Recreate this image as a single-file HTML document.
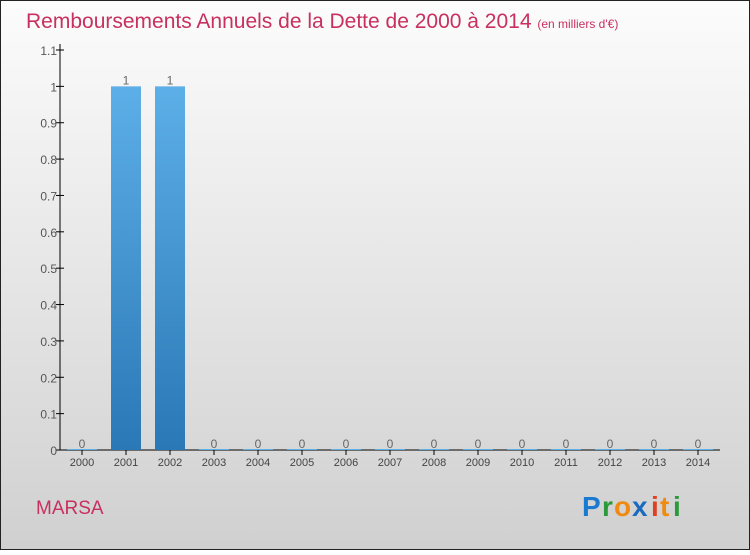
<!DOCTYPE html>
<html><head><meta charset="utf-8"><style>
body{margin:0;width:750px;height:550px;overflow:hidden;font-family:"Liberation Sans",sans-serif}
</style></head><body>
<svg width="750" height="550" xmlns="http://www.w3.org/2000/svg">
<defs>
<linearGradient id="bg" x1="0" y1="0" x2="0" y2="1"><stop offset="0" stop-color="#fcfcfc"/><stop offset="1" stop-color="#d0d0d0"/></linearGradient>
<linearGradient id="bar" x1="0" y1="0" x2="0" y2="1"><stop offset="0" stop-color="#5dafe8"/><stop offset="1" stop-color="#2a78b6"/></linearGradient>
</defs>
<rect x="0.5" y="0.5" width="749" height="549" fill="url(#bg)" stroke="#222"/>
<text x="26" y="28" font-size="21" fill="#c8305f">Remboursements Annuels de la Dette de 2000 à 2014 <tspan font-size="12">  (en milliers d'€)</tspan></text>
<g id="plot"></g>
<text x="36" y="514" font-size="19" fill="#c8305f">MARSA</text>
<g font-size="28" font-weight="bold">
<text x="582" y="516" fill="#1a7ad0">P</text><text x="602" y="516" fill="#2a9a3a">r</text><text x="614" y="516" fill="#f08a10">o</text><text x="632" y="516" fill="#1a6ac0">x</text><text x="651" y="516" fill="#e04020">i</text><text x="660" y="516" fill="#f08a10">t</text><text x="673" y="516" fill="#2a9a3a">i</text>
</g>
</svg>
<script>
const categories=["2000","2001","2002","2003","2004","2005","2006","2007","2008","2009","2010","2011","2012","2013","2014"];
const values=[0,1,1,0,0,0,0,0,0,0,0,0,0,0,0];
const tickLabels=["0","0.1","0.2","0.3","0.4","0.5","0.6","0.7","0.8","0.9","1","1.1"];
const tickValues=[0,0.1,0.2,0.3,0.4,0.5,0.6,0.7,0.8,0.9,1,1.1];
const NS="http://www.w3.org/2000/svg";
const g=document.getElementById('plot');
const y=v=>450-v*(400/1.1);
const x=i=>82+i*44;
function mk(t,a,txt){const e=document.createElementNS(NS,t);for(const k in a)e.setAttribute(k,a[k]);if(txt!==undefined)e.textContent=txt;g.appendChild(e);return e;}
let ax=mk('line',{x1:60,y1:44,x2:60,y2:450,stroke:'#000'});


let bx=mk('line',{x1:60,y1:450,x2:720,y2:450,stroke:'#000'});


tickValues.forEach((v,i)=>{
 mk('line',{x1:56,y1:y(v),x2:64,y2:y(v),stroke:'#000'});
 const t=mk('text',{x:57,y:y(v)+5,'text-anchor':'end','font-size':12,fill:'#555'},tickLabels[i]);
 
 
});
categories.forEach((c,i)=>{
 const cx=x(i);
 mk('line',{x1:cx,y1:450,x2:cx,y2:455,stroke:'#000'});
 const t=mk('text',{x:cx,y:466,'text-anchor':'middle','font-size':11,fill:'#444'},c);
 
 
 const h=450-y(values[i]);
 const r=mk('rect',{x:cx-15,y:y(values[i])-(h>0?0:1),width:30,height:Math.max(h,1),fill:h>0?'url(#bar)':'#5dafe8'});
 
 
 const l=mk('text',{x:cx,y:y(values[i])-2,'text-anchor':'middle','font-size':12,fill:'#666'},String(values[i]));
 
 
});
</script>
</body></html>
